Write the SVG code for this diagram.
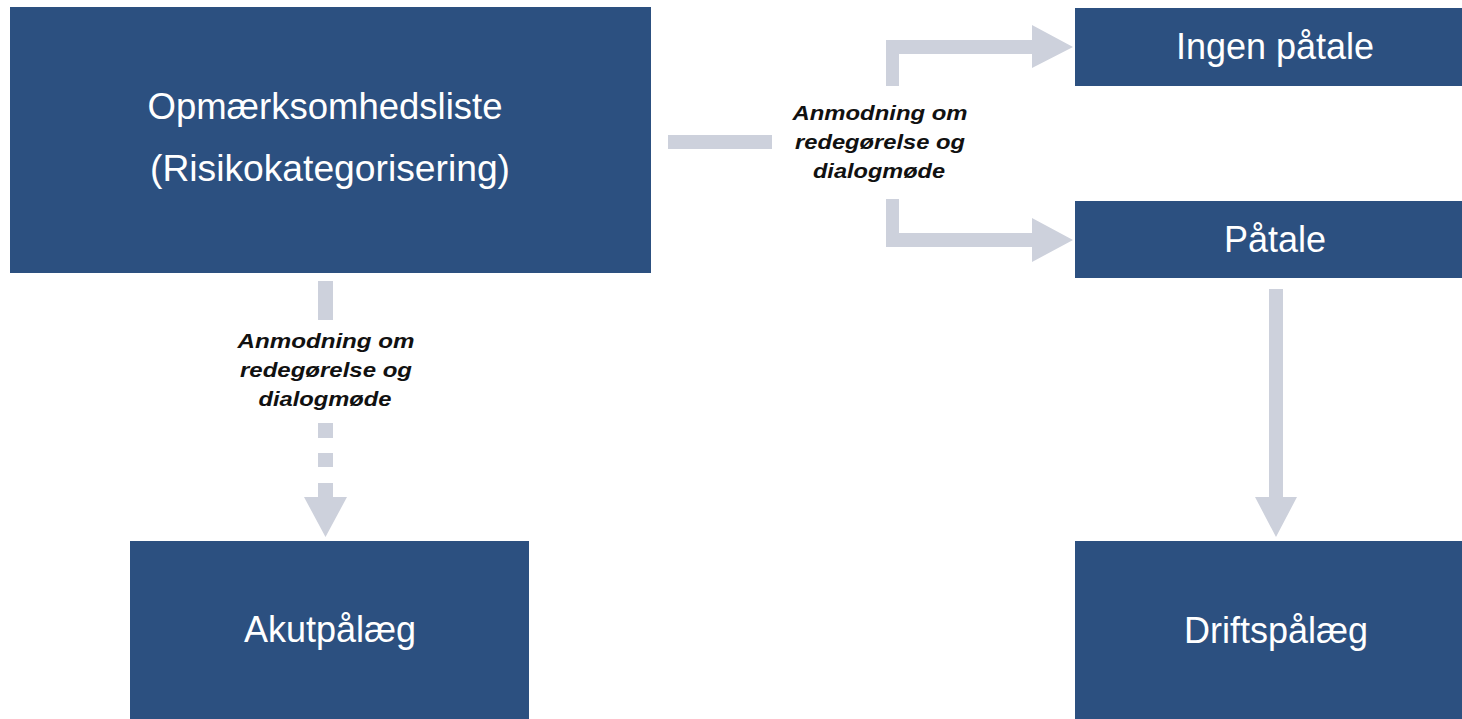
<svg xmlns="http://www.w3.org/2000/svg" width="1462" height="719" viewBox="0 0 1462 719">
<style>
.box{fill:#2C5080}
.bt{font-family:"Liberation Sans",Arial,sans-serif;font-size:36px;fill:#ffffff;text-anchor:middle}
.arr{fill:#CDD1DC}
.lbl{font-family:"Liberation Sans",Arial,sans-serif;font-size:21px;font-weight:bold;font-style:italic;fill:#111111;text-anchor:middle}
</style>
<rect width="1462" height="719" fill="#ffffff"/>
<g id="connectors">
  <rect class="arr" x="668" y="135" width="104" height="14"/>
  <path class="arr" d="M886,86 L886,40 L1032,40 L1032,25 L1073,47 L1032,68 L1032,54 L899,54 L899,86 Z"/>
  <path class="arr" d="M886,199 L899,199 L899,233 L1032,233 L1032,218 L1073,240 L1032,262 L1032,247 L886,247 Z"/>
  <rect class="arr" x="318" y="281" width="15" height="39"/>
  <rect class="arr" x="318" y="423" width="15" height="15"/>
  <rect class="arr" x="318" y="453" width="15" height="14"/>
  <path class="arr" d="M318,483 L333,483 L333,497 L347,497 L325.5,537 L304,497 L318,497 Z"/>
  <path class="arr" d="M1269,289 L1283,289 L1283,497 L1297,497 L1276,537 L1255,497 L1269,497 Z"/>
  <g id="label-right">
    <text class="lbl" x="880" y="120" textLength="175" lengthAdjust="spacingAndGlyphs">Anmodning om</text>
    <text class="lbl" x="880" y="149" textLength="170" lengthAdjust="spacingAndGlyphs">redegørelse og</text>
    <text class="lbl" x="879" y="178" textLength="132" lengthAdjust="spacingAndGlyphs">dialogmøde</text>
  </g>
  <g id="label-down">
    <text class="lbl" x="326" y="348" textLength="177" lengthAdjust="spacingAndGlyphs">Anmodning om</text>
    <text class="lbl" x="326" y="377" textLength="172" lengthAdjust="spacingAndGlyphs">redegørelse og</text>
    <text class="lbl" x="325" y="406" textLength="133" lengthAdjust="spacingAndGlyphs">dialogmøde</text>
  </g>
</g>
<g id="node-opmaerksomhedsliste">
  <rect class="box" x="10" y="7" width="641" height="266"/>
  <text class="bt" x="325" y="119" textLength="355" lengthAdjust="spacingAndGlyphs">Opmærksomhedsliste</text>
  <text class="bt" x="330" y="181" textLength="360" lengthAdjust="spacingAndGlyphs">(Risikokategorisering)</text>
</g>
<g id="node-ingen-paatale">
  <rect class="box" x="1075" y="8" width="400" height="78"/>
  <text class="bt" x="1275" y="59">Ingen påtale</text>
</g>
<g id="node-paatale">
  <rect class="box" x="1075" y="201" width="400" height="77"/>
  <text class="bt" x="1275" y="252">Påtale</text>
</g>
<g id="node-akutpaalaeg">
  <rect class="box" x="130" y="541" width="399" height="190"/>
  <text class="bt" x="330" y="642">Akutpålæg</text>
</g>
<g id="node-driftspaalaeg">
  <rect class="box" x="1075" y="541" width="400" height="190"/>
  <text class="bt" x="1276" y="643">Driftspålæg</text>
</g>
</svg>
